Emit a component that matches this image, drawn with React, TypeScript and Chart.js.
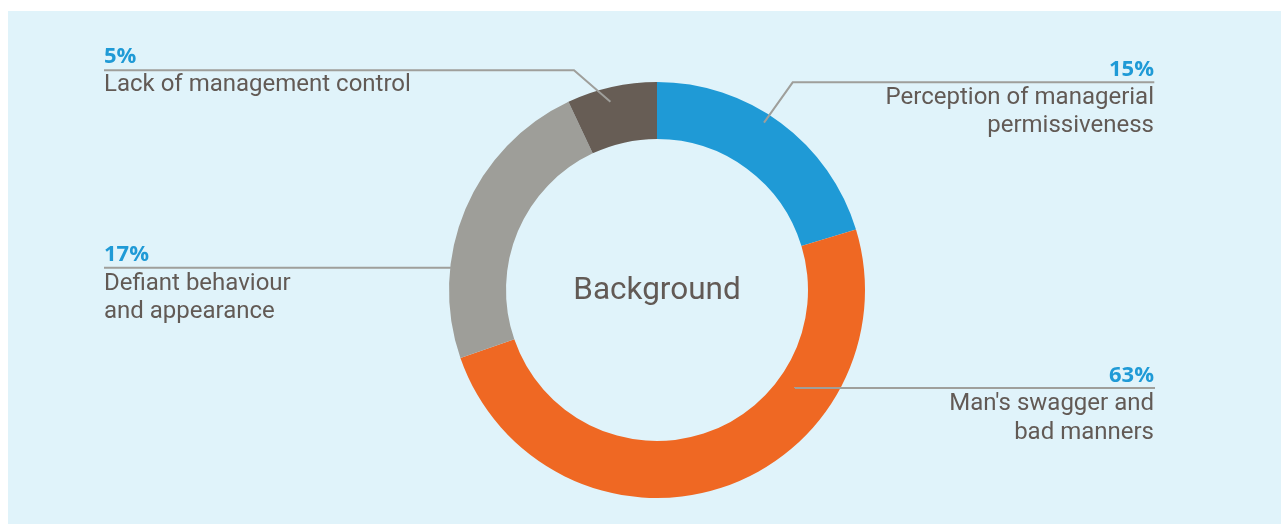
import React, { useEffect, useRef } from "react";
import { Chart, registerables } from "chart.js";

Chart.register(...registerables);

// ---- data ----
const categories = [
  "Perception of managerial permissiveness",
  "Man's swagger and bad manners",
  "Defiant behaviour and appearance",
  "Lack of management control",
];
// arc sizes as drawn in the picture
const arcShares = [20.3, 49.4, 23.3, 7.0];
// printed percentages
const percentLabels = ["15%", "63%", "17%", "5%"];
const labelLines = [
  ["Perception of managerial", "permissiveness"],
  ["Man's swagger and", "bad manners"],
  ["Defiant behaviour", "and appearance"],
  ["Lack of management control"],
];
const centerTitle = "Background";

// ---- style / layout ----
const COLORS = ["#1f9ad6", "#ef6823", "#9e9e99", "#675d55"];
const BG = "#e0f3fa";
const TEXT = "#625a55";
const PCT = "#1f9ad6";
const LINE = "#9f9f9b";

// anchor (angle from top, clockwise, radius) + label layout in canvas px
const labelLayout = [
  { angle: 32.6, r: 198.6, elbowX: 784.7, lineY: 71.3, endX: 1146.3, align: "right", textX: 1146, pctY: 64.7, textY: [93.3, 120.8] },
  { angle: 125.4, r: 169.3, elbowX: null, lineY: 377, endX: 1147, align: "right", textX: 1146, pctY: 370.7, textY: [399.3, 427.7] },
  { angle: 276.2, r: 206.5, elbowX: null, lineY: 256.7, endX: 96, align: "left", textX: 96, pctY: 250, textY: [279, 306.7] },
  { angle: 346.1, r: 194, elbowX: 566, lineY: 59.3, endX: 96, align: "left", textX: 96, pctY: 51.7, textY: [80] },
];

const W = 1273;
const H = 513;

const labelPlugin = {
  id: "donutLabels",
  afterDraw(chart: any) {
    const ctx = chart.ctx as CanvasRenderingContext2D;
    const arc = chart.getDatasetMeta(0).data[0];
    if (!arc) return;
    const cx = arc.x;
    const cy = arc.y;
    ctx.save();
    // center title
    ctx.fillStyle = TEXT;
    ctx.font = "31.5px Roboto";
    ctx.textAlign = "center";
    ctx.textBaseline = "alphabetic";
    ctx.fillText(centerTitle, cx, cy + 9.3);

    labelLayout.forEach((L, i) => {
      const a = (L.angle * Math.PI) / 180;
      const ax = cx + L.r * Math.sin(a);
      const ay = cy - L.r * Math.cos(a);
      ctx.strokeStyle = LINE;
      ctx.lineWidth = 2;
      ctx.beginPath();
      ctx.moveTo(ax, ay);
      if (L.elbowX !== null) {
        ctx.lineTo(L.elbowX, L.lineY);
      } else {
        ctx.lineTo(ax, L.lineY);
      }
      ctx.lineTo(L.endX, L.lineY);
      ctx.stroke();

      ctx.textAlign = L.align as CanvasTextAlign;
      ctx.fillStyle = PCT;
      ctx.font = "bold 22px 'Open Sans'";
      ctx.fillText(percentLabels[i], L.textX, L.pctY);
      ctx.fillStyle = TEXT;
      ctx.font = "24px Roboto";
      labelLines[i].forEach((t, j) => {
        ctx.fillText(t, L.textX, L.textY[j]);
      });
    });
    ctx.restore();
  },
};

export default function App() {
  const ref = useRef<HTMLCanvasElement>(null);
  useEffect(() => {
    document.body.style.overflow = "hidden";
    const canvas = ref.current;
    if (!canvas) return;
    const chart = new Chart(canvas, {
      type: "doughnut",
      data: {
        labels: categories,
        datasets: [
          {
            data: arcShares,
            backgroundColor: COLORS,
            borderWidth: 0,
            hoverOffset: 0,
          },
        ],
      },
      options: {
        responsive: false,
        animation: false,
        radius: 208,
        cutout: 151,
        layout: { padding: { top: 71, bottom: 26, left: 441, right: 416 } },
        plugins: {
          legend: { display: false },
          tooltip: { enabled: false },
          title: { display: false },
        },
        events: [],
      },
      plugins: [labelPlugin],
    });
    return () => chart.destroy();
  }, []);
  return (
    <div
      style={{
        position: "absolute",
        left: 8,
        top: 11,
        width: W,
        height: H,
        background: BG,
      }}
    >
      <canvas ref={ref} width={W} height={H} style={{ display: "block", width: W, height: H }} />
    </div>
  );
}
